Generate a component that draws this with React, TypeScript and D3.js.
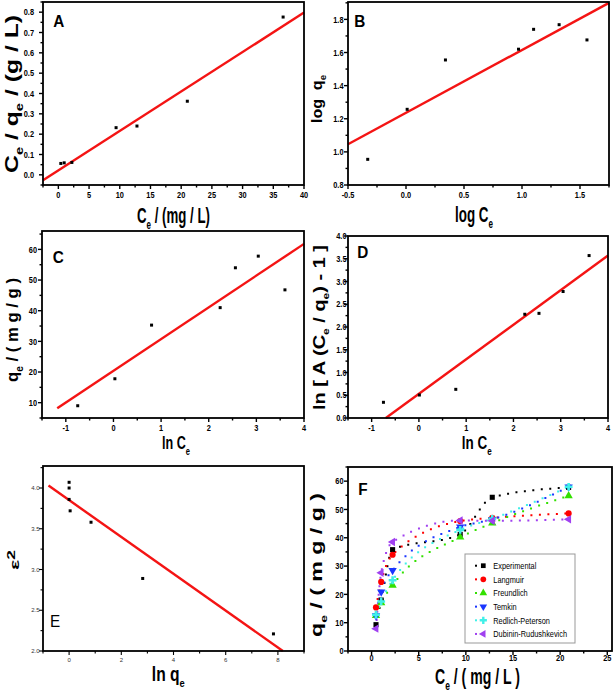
import { useEffect, useRef } from "react";
import * as d3 from "d3";

// ---- values ----
// A : Ce/qe vs Ce
const ceA = [0.4, 0.95, 2.2, 9.4, 12.8, 21.0, 36.6];
const ceqeA = [0.056, 0.059, 0.061, 0.232, 0.24, 0.362, 0.776];
const fitA = [[-2.5, -0.027], [40, 0.798]];
const xTicksA = [0, 5, 10, 15, 20, 25, 30, 35, 40];
const yTicksA = [0, 0.1, 0.2, 0.3, 0.4, 0.5, 0.6, 0.7, 0.8];

// B : log qe vs log Ce
const logCeB = [-0.33, 0.01, 0.34, 0.97, 1.1, 1.32, 1.56];
const logQeB = [0.955, 1.257, 1.555, 1.62, 1.74, 1.768, 1.676];
const fitB = [[-0.5, 1.046], [1.75, 1.9]];
const xTicksB = [-0.5, 0, 0.5, 1.0, 1.5];
const yTicksB = [0.8, 1.0, 1.2, 1.4, 1.6, 1.8];

// C : qe vs ln Ce
const lnCeC = [-0.75, 0.03, 0.8, 2.24, 2.56, 3.04, 3.6];
const qeC = [9.0, 17.8, 35.3, 41.0, 54.0, 57.8, 46.8];
const fitC = [[-1.18, 8.2], [4, 61.8]];
const xTicksC = [-1, 0, 1, 2, 3, 4];
const yTicksC = [10, 20, 30, 40, 50, 60];

// D : ln[A(Ce/qe)-1] vs ln Ce
const lnCeD = [-0.75, 0.01, 0.78, 2.24, 2.54, 3.05, 3.6];
const lnAD = [0.345, 0.505, 0.63, 2.28, 2.3, 2.78, 3.57];
const fitD = [[-0.7, 0], [4, 3.57]];
const xTicksD = [-1, 0, 1, 2, 3, 4];
const yTicksD = [0, 0.5, 1.0, 1.5, 2.0, 2.5, 3.0, 3.5, 4.0];

// E : eps^2 vs ln qe
const lnQeE = [0.0, 0.0, 0.0, 0.04, 0.84, 2.82, 7.83];
const eps2E = [4.07, 4.0, 3.86, 3.72, 3.58, 2.89, 2.21];
const fitE = [[-0.79, 4.03], [8.19, 2.0]];
const xTicksE = [0, 2, 4, 6, 8];
const yTicksE = [2.0, 2.5, 3.0, 3.5, 4.0];

// F : isotherm models vs experiment
const ceF = [0.47, 1.02, 2.23, 9.4, 12.8, 20.9];
const qeExp = [9.3, 18, 35.8, 41.2, 54.3, 57.8];
const qeLangmuir = [15.4, 24.4, 34.0, 45.9, 47.0, 48.6];
const qeFreundlich = [12.5, 17.0, 23.2, 40.2, 45.2, 54.8];
const qeTemkin = [12.5, 20.9, 28.5, 43.8, 46.5, 58.0];
const qeRedlich = [12.8, 17.5, 25.0, 42.8, 46.7, 58.0];
const qeDubinin = [7.9, 27.6, 38.5, 46.1, 46.0, 46.5];
const seriesNames = ["Experimental", "Langmuir", "Freundlich", "Temkin", "Redlich-Peterson", "Dubinin-Rudushkevich"];
const xTicksF = [0, 5, 10, 15, 20, 25];
const yTicksF = [0, 10, 20, 30, 40, 50, 60];

const FONT = "'Liberation Sans', Arial, sans-serif";
const NARROW = 0.82; // horizontal squeeze to mimic a narrow face

const loc = d3.formatLocale({ decimal: ".", thousands: ",", grouping: [3], currency: ["", ""], minus: "-" });
const f0 = loc.format("d");
const f1 = loc.format(".1f");

const CE = [{ t: "C" }, { t: "e", sub: true }];

const panels: any[] = [
  {
    box: [43, 2, 304, 185], xd: [-2.5, 40], yd: [-0.05, 0.85], xt: xTicksA, yt: yTicksA, xf: f0, yf: f1,
    xs: ceA, ys: ceqeA, fit: fitA, yGap: 9, xLab: 13,
    letter: { t: "A", x: 53.3, y: 27.3 },
    xTitle: { parts: [...CE, { t: " / (mg / L)" }], cx: 173.5, by: 223, fs: 22, len: 73 },
    yTitle: { parts: [...CE, { t: " / q" }, { t: "e", sub: true }, { t: " / (g / L)" }], cy: 94, bx: 17.5, len: 158, cap: 13 },
  },
  {
    box: [348, 2, 609, 185], xd: [-0.5, 1.75], yd: [0.8, 1.905], xt: xTicksB, yt: yTicksB, xf: f1, yf: f1,
    xs: logCeB, ys: logQeB, fit: fitB, yGap: 4.5, xLab: 13,
    letter: { t: "B", x: 354.3, y: 26.7 },
    xTitle: { parts: [{ t: "log C" }, { t: "e", sub: true }], cx: 474, by: 221.7, fs: 22, len: 38 },
    yTitle: { parts: [{ t: "log  q" }, { t: "e", sub: true }], cy: 99, bx: 321.7, len: 48, cap: 10 },
  },
  {
    box: [42, 231, 304, 418], xd: [-1.5, 4], yd: [5, 66], xt: xTicksC, yt: yTicksC, xf: f0, yf: f0,
    xs: lnCeC, ys: qeC, fit: fitC, yGap: 5, xLab: 13,
    letter: { t: "C", x: 52.7, y: 263.3 },
    xTitle: { parts: [{ t: "ln C" }, { t: "e", sub: true }], cx: 176, by: 449, fs: 17.5, len: 28 },
    yTitle: { parts: [{ t: "q" }, { t: "e", sub: true }, { t: " / ( m g / g )" }], cy: 330, bx: 17.5, len: 104, cap: 12 },
  },
  {
    box: [348, 236, 608, 418], xd: [-1.5, 4], yd: [0, 4], xt: xTicksD, yt: yTicksD, xf: f0, yf: f1,
    xs: lnCeD, ys: lnAD, fit: fitD, yGap: 1.5, xLab: 13,
    letter: { t: "D", x: 357.3, y: 258.3 },
    xTitle: { parts: [{ t: "ln C" }, { t: "e", sub: true }], cx: 476.7, by: 449, fs: 17.5, len: 30 },
    yTitle: { parts: [{ t: "ln [ A (C" }, { t: "e", sub: true }, { t: " / q" }, { t: "e", sub: true }, { t: ") - 1 ]" }], cy: 327.5, bx: 325, len: 165, cap: 11.6 },
  },
  {
    box: [43, 466, 304, 651], xd: [-1, 9], yd: [2, 4.27], xt: xTicksE, yt: yTicksE, xf: f0, yf: f1,
    xs: lnQeE, ys: eps2E, fit: fitE, yGap: 3.5, xLab: 11, small: true,
    letter: { t: "E", x: 50, y: 626.7, light: true },
    xTitle: { parts: [{ t: "ln q" }, { t: "e", sub: true }], cx: 168.3, by: 681, fs: 19.5, len: 33 },
    yTitle: { parts: [{ t: "ε" }, { t: "2", sup: true }], cy: 560, bx: 19, len: 20, cap: 9 },
  },
  {
    box: [348, 467, 612, 651], xd: [-2.5, 25.5], yd: [0, 65], xt: xTicksF, yt: yTicksF, xf: f0, yf: f0,
    yGap: 4.5, xLab: 10,
    letter: { t: "F", x: 358.3, y: 495 },
    xTitle: { parts: [...CE, { t: " / ( mg / L )" }], cx: 477.5, by: 684, fs: 21.5, len: 85 },
    yTitle: { parts: [{ t: "q" }, { t: "e", sub: true }, { t: " / ( m g / g )" }], cy: 565, bx: 322, len: 144, cap: 11.6 },
  },
];

const fSeries = [
  { values: qeExp, color: "#000000", symbol: d3.symbolSquare, size: 26, rot: 0 },
  { values: qeLangmuir, color: "#ff0000", symbol: d3.symbolCircle, size: 30, rot: 0 },
  { values: qeFreundlich, color: "#33e000", symbol: d3.symbolTriangle, size: 30, rot: 0 },
  { values: qeTemkin, color: "#1a36ff", symbol: d3.symbolTriangle, size: 30, rot: 180 },
  { values: qeRedlich, color: "#40f0e8", symbol: d3.symbolCross, size: 34, rot: 0 },
  { values: qeDubinin, color: "#a040f0", symbol: d3.symbolTriangle, size: 30, rot: -90 },
];

function minors(ticks: number[], dom: number[]) {
  const step = ticks[1] - ticks[0];
  const out: number[] = [];
  for (let v = ticks[0] - step / 2; v <= dom[1] + 1e-9; v += step) {
    if (v >= dom[0] - 1e-9) out.push(v);
  }
  return out;
}

function drawTitle(svg: any, t: any, rotated: boolean) {
  const g = svg.append("g");
  const text = g.append("text")
    .attr("font-family", FONT)
    .attr("font-weight", "bold")
    .attr("font-size", rotated ? 20 : t.fs)
    .attr("text-anchor", "middle")
    .style("white-space", "pre")
    .attr("fill", "#000");
  t.parts.forEach((p: any) => {
    const s = text.append("tspan").text(p.t);
    if (p.sub) s.attr("font-size", "0.6em").attr("baseline-shift", "-0.5em");
    if (p.sup) s.attr("font-size", "0.8em").attr("baseline-shift", "0.45em");
  });
  const len = text.node().getComputedTextLength() || 1;
  if (rotated) {
    const fs = (20 * t.len) / len;
    text.attr("font-size", fs);
    const sx = t.cap / (0.716 * fs);
    g.attr("transform", `translate(${t.bx},${t.cy}) scale(${sx},1) rotate(-90)`);
  } else {
    g.attr("transform", `translate(${t.cx},${t.by}) scale(${t.len / len},1)`);
  }
}

function tickText(g: any, x: number, y: number, anchor: string, str: string, small: boolean) {
  g.append("text")
    .attr("transform", `translate(${x},${y}) scale(${small ? 1 : NARROW},1)`)
    .attr("text-anchor", anchor)
    .attr("font-family", FONT)
    .attr("font-size", small ? 6 : 9)
    .attr("font-weight", small ? "normal" : "bold")
    .attr("fill", small ? "#333" : "#000")
    .text(str);
}

function drawPanel(svg: any, p: any) {
  const [l, t, r, b] = p.box;
  const x = d3.scaleLinear().domain(p.xd).range([l, r]);
  const y = d3.scaleLinear().domain(p.yd).range([b, t]);
  const g = svg.append("g");
  const tickW = p.small ? 1.1 : 1.4;

  // ticks (outward)
  p.xt.forEach((v: number) => {
    g.append("line").attr("x1", x(v)).attr("x2", x(v)).attr("y1", b).attr("y2", b + 4)
      .attr("stroke", "#000").attr("stroke-width", tickW);
  });
  minors(p.xt, p.xd).forEach((v: number) => {
    g.append("line").attr("x1", x(v)).attr("x2", x(v)).attr("y1", b).attr("y2", b + 2.5)
      .attr("stroke", "#000").attr("stroke-width", tickW);
  });
  p.yt.forEach((v: number) => {
    g.append("line").attr("x1", l).attr("x2", l - 4).attr("y1", y(v)).attr("y2", y(v))
      .attr("stroke", "#000").attr("stroke-width", tickW);
  });
  minors(p.yt, p.yd).forEach((v: number) => {
    g.append("line").attr("x1", l).attr("x2", l - 2.5).attr("y1", y(v)).attr("y2", y(v))
      .attr("stroke", "#000").attr("stroke-width", tickW);
  });

  // tick labels
  const ts = p.small ? 6 : 9;
  p.xt.forEach((v: number) => tickText(g, x(v), b + p.xLab, "middle", p.xf(v), p.small));
  p.yt.forEach((v: number) => tickText(g, l - p.yGap, y(v) + ts * 0.35, "end", p.yf(v), p.small));

  // points + fit line
  if (p.xs) {
    g.append("path")
      .datum(p.fit)
      .attr("d", d3.line().x((d: any) => x(d[0])).y((d: any) => y(d[1])))
      .attr("stroke", "#f41414").attr("stroke-width", 2.4).attr("fill", "none");
    g.selectAll(".pt")
      .data(p.xs.map((v: number, i: number) => [v, p.ys[i]]))
      .enter()
      .append("rect")
      .attr("x", (d: any) => x(d[0]) - 1.5)
      .attr("y", (d: any) => y(d[1]) - 1.5)
      .attr("width", 3).attr("height", 3).attr("fill", "#000");
  }

  // frame
  g.append("rect").attr("x", l).attr("y", t).attr("width", r - l).attr("height", b - t)
    .attr("fill", "none").attr("stroke", "#000").attr("stroke-width", 1.8);

  // panel letter
  g.append("text")
    .attr("transform", `translate(${p.letter.x},${p.letter.y}) scale(0.9,1)`)
    .attr("font-family", FONT)
    .attr("font-weight", p.letter.light ? "normal" : "bold")
    .attr("font-size", 17).text(p.letter.t);

  drawTitle(svg, p.xTitle, false);
  drawTitle(svg, p.yTitle, true);
  return { x, y, g };
}

function drawF(svg: any, x: any, y: any) {
  const g = svg.append("g");
  const line = d3.line<number>().x((_, i) => x(ceF[i])).y((d) => y(d)).curve(d3.curveMonotoneX);
  fSeries.forEach((s) => {
    g.append("path").attr("d", line(s.values)).attr("fill", "none")
      .attr("stroke", s.color).attr("stroke-width", 2).attr("stroke-linecap", "square")
      .attr("stroke-dasharray", "0 8.5");
  });
  fSeries.forEach((s) => {
    s.values.forEach((v, i) => {
      g.append("path").attr("d", d3.symbol(s.symbol, s.size)())
        .attr("transform", `translate(${x(ceF[i])},${y(v)}) rotate(${s.rot})`)
        .attr("fill", s.color);
    });
  });

  // legend
  const lg = svg.append("g");
  lg.append("rect").attr("x", 465).attr("y", 554).attr("width", 110).attr("height", 89)
    .attr("fill", "#fff").attr("stroke", "#999").attr("stroke-width", 1);
  fSeries.forEach((s, i) => {
    const yy = 565.7 + 13.65 * i;
    lg.append("rect").attr("x", 475).attr("y", yy - 1).attr("width", 2).attr("height", 2).attr("fill", s.color);
    lg.append("path").attr("d", d3.symbol(s.symbol, s.size * 0.85)())
      .attr("transform", `translate(483.3,${yy}) rotate(${s.rot})`).attr("fill", s.color);
    lg.append("text")
      .attr("transform", `translate(493.3,${yy + 3.2}) scale(${NARROW},1)`)
      .attr("font-family", FONT).attr("font-size", 9).attr("fill", "#000")
      .text(seriesNames[i]);
  });
}

export default function App() {
  const svgRef = useRef<SVGSVGElement>(null);

  useEffect(() => {
    const svg = d3.select(svgRef.current);
    svg.selectAll("*").remove();
    svg.append("rect").attr("width", 614).attr("height", 697).attr("fill", "#fff");
    let fScales: any = null;
    panels.forEach((p, i) => {
      const s = drawPanel(svg, p);
      if (i === 5) fScales = s;
    });
    drawF(svg, fScales.x, fScales.y);
  }, []);

  return (
    <svg
      ref={svgRef}
      width={614}
      height={697}
      style={{ position: "absolute", left: 0, top: 0 }}
    />
  );
}
